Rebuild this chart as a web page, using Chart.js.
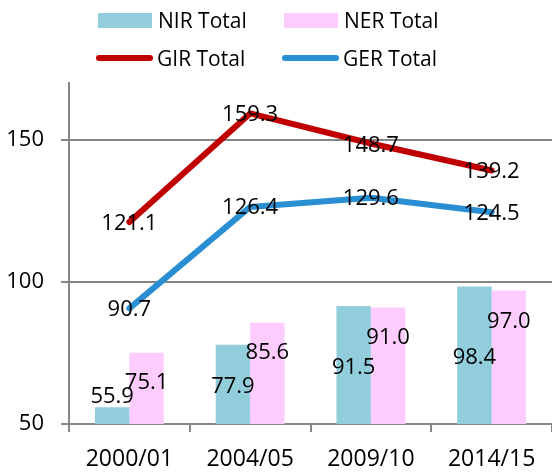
<!DOCTYPE html>
<html>
<head>
<meta charset="utf-8">
<script src="https://cdn.jsdelivr.net/npm/chart.js@4/dist/chart.umd.min.js"></script>
<style>
  body { margin: 0; background: #fff; }
  #wrap { position: relative; width: 552px; height: 472px; }
  #legend {
    position: absolute; left: 96px; top: 1px;
    display: grid; grid-template-columns: 186px 186px; grid-auto-rows: 38px;
    font-family: 'Open Sans', sans-serif; font-size: 21px; color: #000;
  }
  .item { display: flex; align-items: center; white-space: nowrap; }
  .swatch { width: 54px; height: 15px; margin: 0 6px 0 2px; }
  .stroke { width: 57px; height: 6px; border-radius: 3px; margin-right: 4px; }
</style>
</head>
<body>
<div id="wrap">
  <canvas id="chart"></canvas>
  <div id="legend"></div>
</div>
<script>
const years = ['2000/01', '2004/05', '2009/10', '2014/15'];
const nirTotal = [55.9, 77.9, 91.5, 98.4];
const nerTotal = [75.1, 85.6, 91.0, 97.0];
const girTotal = [121.1, 159.3, 148.7, 139.2];
const gerTotal = [90.7, 126.4, 129.6, 124.5];

const axisGrey = '#868686';
const font = { family: "'Open Sans', sans-serif", size: 22 };

// where each value label sits, in px below the bar top / line point
const labelShift = {
  'NIR Total': [-10, 42, 62, 71.5],
  'NER Total': [30, 30, 30.5, 31.5],
  'GIR Total': [1.5, 1.5, 2, 1.5],
  'GER Total': [1, 1, 1, 1]
};

const valueLabels = {
  id: 'valueLabels',
  afterDatasetsDraw(chart) {
    const ctx = chart.ctx;
    ctx.save();
    ctx.font = `${font.size}px ${font.family}`;
    ctx.fillStyle = '#000';
    ctx.textAlign = 'center';
    ctx.textBaseline = 'middle';
    chart.data.datasets.forEach((ds, i) => {
      const shift = labelShift[ds.label];
      chart.getDatasetMeta(i).data.forEach((el, j) => {
        ctx.fillText(ds.data[j].toFixed(1), el.x, el.y + shift[j]);
      });
    });
    ctx.restore();
  }
};

const lineStyle = { type: 'line', order: 0, borderWidth: 6, pointRadius: 0, borderCapStyle: 'round', borderJoinStyle: 'round', tension: 0 };

const chart = new Chart(document.getElementById('chart'), {
  type: 'bar',
  data: {
    labels: years,
    datasets: [
      { label: 'NIR Total', data: nirTotal, backgroundColor: '#92CDDC', order: 1 },
      { label: 'NER Total', data: nerTotal, backgroundColor: '#FFCCFF', order: 1 },
      { label: 'GIR Total', data: girTotal, borderColor: '#C00000', ...lineStyle },
      { label: 'GER Total', data: gerTotal, borderColor: '#2A8FD2', ...lineStyle }
    ]
  },
  options: {
    responsive: true,
    maintainAspectRatio: false,
    animation: false,
    layout: { padding: { top: 83, left: 0, right: 0, bottom: 0 } },
    datasets: { bar: { categoryPercentage: 0.57, barPercentage: 1 } },
    plugins: { legend: { display: false }, tooltip: { enabled: false } },
    scales: {
      x: {
        afterFit(scale) { scale.height = 48; },
        grid: { drawOnChartArea: false, tickLength: 8, color: axisGrey, lineWidth: 2 },
        border: { color: axisGrey, width: 2 },
        ticks: { color: '#000', font: { ...font, size: 23 }, padding: 14 }
      },
      y: {
        min: 50, max: 170,
        afterFit(scale) { scale.width = 69; },
        grid: { color: axisGrey, lineWidth: 2, tickLength: 8 },
        border: { color: axisGrey, width: 2 },
        ticks: { stepSize: 50, includeBounds: false, color: '#000', font, padding: 17 }
      }
    }
  },
  plugins: [valueLabels]
});

// two-row legend built from the datasets
const legend = document.getElementById('legend');
chart.data.datasets.forEach(ds => {
  const item = document.createElement('div');
  item.className = 'item';
  const mark = document.createElement('span');
  if (ds.type === 'line') {
    mark.className = 'stroke';
    mark.style.background = ds.borderColor;
  } else {
    mark.className = 'swatch';
    mark.style.background = ds.backgroundColor;
  }
  item.appendChild(mark);
  item.appendChild(document.createTextNode(ds.label));
  legend.appendChild(item);
});
</script>
</body>
</html>
